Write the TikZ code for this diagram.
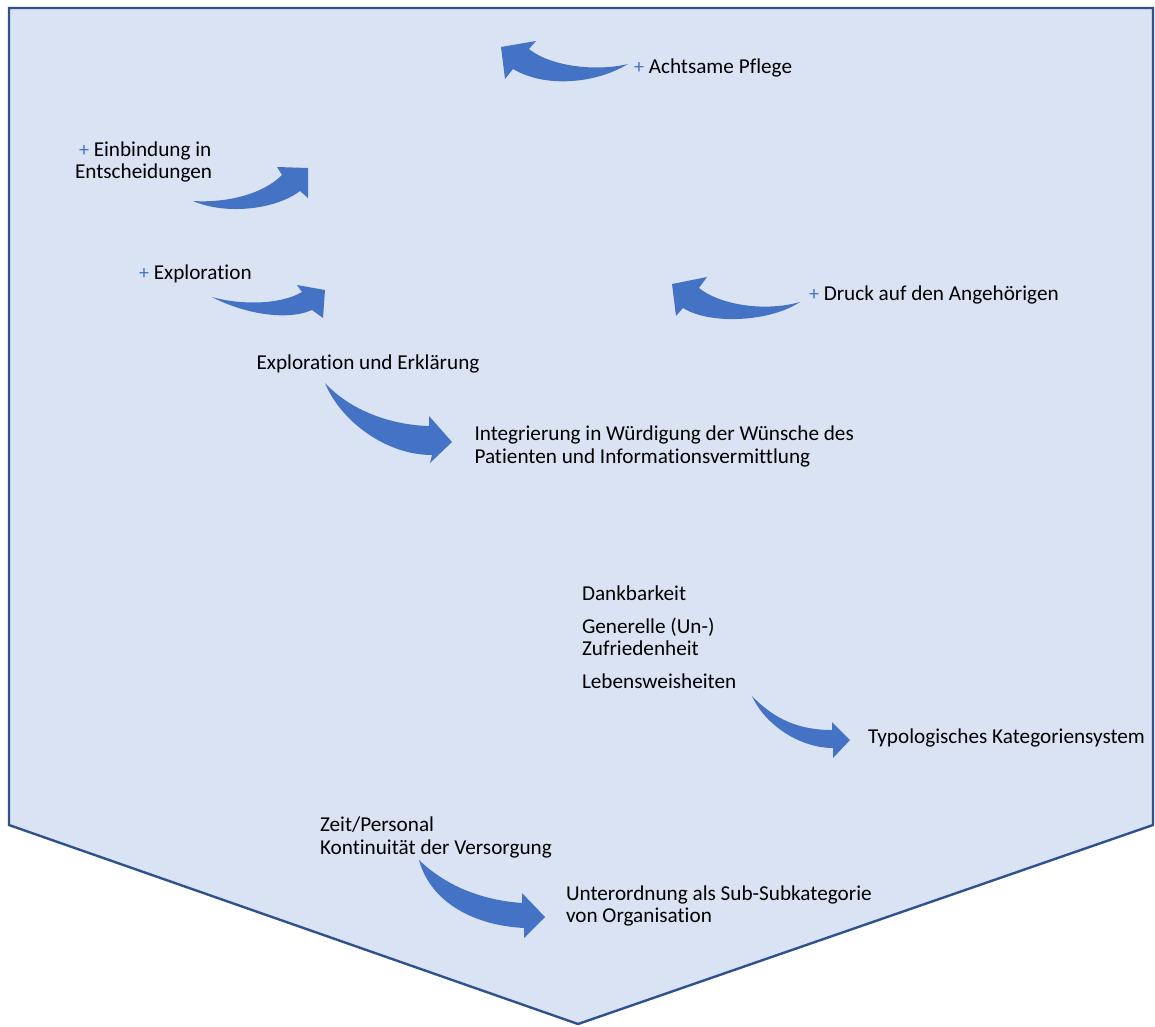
\documentclass[tikz,border=0pt]{standalone}
\usepackage{fontspec}
\setmainfont[Ligatures=NoCommon]{Carlito}
\definecolor{bgfill}{HTML}{DAE3F3}
\definecolor{bgline}{HTML}{2F528F}
\definecolor{arrowblue}{HTML}{4472C4}
\newcommand{\plusmark}{{\color{arrowblue}\fontsize{20}{20}\selectfont+}}
\begin{document}
\begin{tikzpicture}[x=1pt,y=-1pt,
  lbl/.style={inner sep=0pt,outer sep=0pt,anchor=base west,font=\fontsize{21.2}{22.5}\selectfont},
  mlbl/.style={inner sep=0pt,outer sep=0pt,anchor=north west,align=left,font=\fontsize{21.2}{22.5}\selectfont},
  curvearrow/.style={fill=arrowblue,draw=none}]
\useasboundingbox (0,0) rectangle (1155,1026);
\draw[fill=bgfill,draw=bgline,line width=2.4pt,line join=miter]
  (9,8) -- (1153,8) -- (1153,825) -- (578,1024) -- (9,825) -- cycle;

% curved block arrows
\fill[curvearrow] (628,64) .. controls (595,84) and (545,88) .. (513,69)
  -- (505,79) -- (501,47) -- (536,41) -- (529,49)
  .. controls (550,66) and (595,72) .. (628,64) -- cycle;
\fill[curvearrow] (193,201) .. controls (225,215) and (275,210) .. (300,191)
  -- (308,198) -- (308,168) -- (277,167) -- (282,175)
  .. controls (262,195) and (225,203) .. (193,201) -- cycle;
\fill[curvearrow] (212,297) .. controls (240,312) and (285,322) .. (312,310)
  -- (323,318) -- (325,290) -- (297,285) -- (302,292)
  .. controls (280,305) and (240,305) .. (212,297) -- cycle;
\fill[curvearrow] (800,302) .. controls (770,322) and (710,325) .. (683,308)
  -- (676,316) -- (672,284) -- (707,277) -- (699,288)
  .. controls (720,305) and (765,312) .. (800,302) -- cycle;
\fill[curvearrow] (325,383) .. controls (340,420) and (385,455) .. (432,455)
  -- (430,463) -- (452,442) -- (429,416) -- (429,426)
  .. controls (390,425) and (350,410) .. (325,383) -- cycle;
\fill[curvearrow] (752,696) .. controls (765,725) and (800,748) .. (833,748)
  -- (833,758) -- (850,740) -- (832,722) -- (832,730)
  .. controls (800,730) and (775,720) .. (752,696) -- cycle;
\fill[curvearrow] (419,860) .. controls (430,900) and (470,925) .. (524,928)
  -- (524,938) -- (545,917) -- (522,893) -- (522,903)
  .. controls (480,900) and (445,885) .. (419,860) -- cycle;

% labels
\node[lbl] (achtsam) at (634,73.3) {\plusmark\ Achtsame Pflege};
\node[mlbl] (einbind) at (75,140.5) {\hspace*{4pt}\strut\plusmark\ Einbindung in\\Entscheidungen};
\node[lbl] (explor) at (139,279.3) {\plusmark\ Exploration};
\node[lbl] (druck) at (809,300.7) {\plusmark\ Druck auf den Angehörigen};
\node[lbl] (explerk) at (256.5,369.3) {Exploration und Erklärung};
\node[mlbl] (integ) at (474.5,425) {\strut Integrierung in Würdigung der Wünsche des\\Patienten und Informationsvermittlung};
\node[lbl] (dank) at (582,600.7) {Dankbarkeit};
\node[mlbl] (generell) at (582,617.6) {\strut Generelle (Un-)\\Zufriedenheit};
\node[lbl] (leben) at (582,688.3) {Lebensweisheiten};
\node[lbl] (typo) at (868,743.3) {Typologisches Kategoriensystem};
\node[mlbl] (zeit) at (320,816) {\strut Zeit/Personal\\Kontinuität der Versorgung};
\node[mlbl] (unter) at (566,884.3) {\strut Unterordnung als Sub-Subkategorie\\von Organisation};
\end{tikzpicture}
\end{document}
